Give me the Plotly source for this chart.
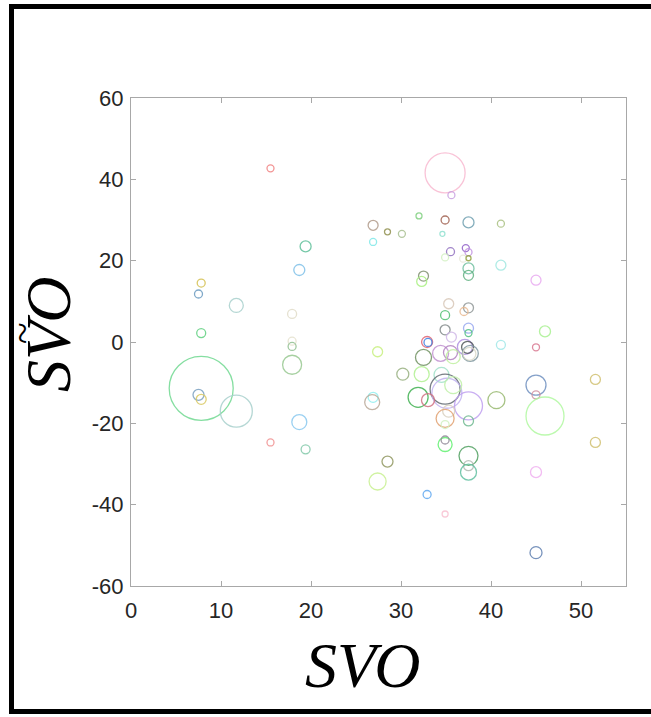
import plotly.graph_objects as go

x_vals = [15.5, 26.9, 26.9, 19.4, 18.7, 7.8, 7.5, 11.7, 17.9, 7.8, 17.9, 17.9, 7.8, 7.5, 7.8, 11.7,
          17.9, 18.7, 15.5, 19.4, 27.4, 26.9, 26.8, 27.4, 28.5, 28.5, 34.9, 35.6, 32.0, 34.9, 37.5,
          41.1, 30.1, 34.6, 35.5, 37.2, 37.5, 34.9, 36.9, 37.5, 37.5, 37.5, 41.1, 45.0, 32.5, 32.3,
          35.3, 37.5, 37.0, 34.9, 34.9, 35.6, 37.5, 37.5, 46.0, 32.9, 33.0, 41.1, 45.0, 32.5, 34.4,
          35.5, 35.8, 37.1, 37.4, 37.7, 37.6, 30.2, 32.3, 34.5, 34.9, 35.1, 35.8, 31.9, 33.0, 37.5,
          35.3, 34.9, 37.5, 34.9, 40.6, 45.0, 45.0, 46.0, 51.6, 51.6, 45.0, 45.0, 32.9, 34.9, 34.9,
          34.9, 37.5, 37.5, 37.5]
y_vals = [42.7, 28.7, 24.6, 23.5, 17.7, 14.5, 11.8, 9.0, 6.9, 2.2, 0.2, -1.1, -11.4, -13.0, -14.1, -17.0,
          -5.6, -19.7, -24.7, -26.4, -2.4, -13.6, -14.8, -34.3, 27.1, -29.4, 41.6, 36.1, 31.0, 30.0, 29.4,
          29.1, 26.6, 26.6, 22.2, 23.1, 22.1, 20.8, 20.5, 20.6, 18.1, 16.4, 18.9, 15.2, 16.2, 14.9,
          9.4, 8.4, 7.5, 6.6, 3.0, 1.2, 3.4, 2.2, 2.6, 0.0, -0.1, -0.7, -1.3, -3.8, -2.8,
          -2.6, -3.6, -1.2, -1.3, -2.8, -2.9, -7.9, -7.9, -8.1, -11.6, -12.6, -10.6, -13.6, -14.3, -15.7,
          -17.0, -18.8, -19.4, -20.3, -14.3, -10.6, -13.0, -18.2, -9.2, -24.7, -32.0, -51.8, -37.5, -42.3, -25.2,
          -24.1, -28.0, -30.4, -32.0]
sizes = [7, 10, 7, 11, 11, 8, 8, 14, 9, 9, 8, 8, 64, 11, 10, 32,
         19, 15, 7, 9, 10, 10, 15, 17, 6, 11, 40, 7, 6, 8, 11,
         7, 7, 5, 8, 7, 7, 7, 7, 5, 11, 10, 10, 10, 10, 10,
         10, 10, 8, 9, 10, 10, 10, 7, 11, 11, 8, 9, 7, 16, 16,
         14, 14, 15, 12, 16, 13, 12, 15, 15, 30, 30, 17, 20, 13, 28,
         12, 18, 10, 8, 17, 20, 8, 38, 10, 10, 11, 12, 8, 6, 14,
         8, 19, 10, 16]
colors = ["#f08080", "#b09a8a", "#7fe8e8", "#5fbf9a", "#7ec0e8", "#d4c050", "#6a9ac0", "#a8d0cc",
          "#e0dcc8", "#60d080", "#e4e0cc", "#90c090", "#70d890", "#7aa0c0", "#d8c860", "#a8d0cc",
          "#98c890", "#88c8ee", "#f09090", "#80c8a8", "#c8f080", "#90eeee", "#b8a898", "#c8f090",
          "#909050", "#909860", "#f8b8d0", "#c8a0e0", "#80d080", "#a06050", "#70a0b0", "#a8c080",
          "#a8c090", "#90e0d0", "#9070c0", "#9060c8", "#c090e0", "#d0f0c0", "#e8e8d8", "#90a040",
          "#70c0a0", "#60b080", "#a0e8e0", "#e8a8f0", "#809070", "#a8f080", "#d8c8b8", "#909898",
          "#e8b890", "#50c070", "#808888", "#d0b8e8", "#98a8f0", "#50c080", "#a8f090", "#e06070",
          "#4080e0", "#a0e8e8", "#d87890", "#709060", "#c090d0", "#b080c0", "#c0f0a0", "#b090e0",
          "#505858", "#8098a0", "#d8d8c8", "#98b080", "#b0f090", "#a0e0c8", "#606870", "#c0b0f0",
          "#c0f0a8", "#40b050", "#d07080", "#c0a0f0", "#d8d0c0", "#e0a070", "#70b890", "#d0f0c0",
          "#98b870", "#7090c0", "#d090a0", "#b0f8a0", "#d0c070", "#d0c070", "#f0b0f0", "#6080b0",
          "#60a8f0", "#f8c0d0", "#60f070", "#908898", "#50a060", "#b0b8b0", "#60c0a0"]

x_ticks = [0, 10, 20, 30, 40, 50]
x_ticktext = ["0", "10", "20", "30", "40", "50"]
y_ticks = [-60, -40, -20, 0, 20, 40, 60]
y_ticktext = ["-60", "-40", "-20", "0", "20", "40", "60"]

fig = go.Figure()
fig.add_trace(go.Scatter(
    x=x_vals, y=y_vals, mode="markers",
    marker=dict(symbol="circle-open", size=sizes, color=colors,
                line=dict(width=1.3, color=colors), opacity=0.85),
    showlegend=False, hoverinfo="x+y"))

L, R, T, B = 131, 25, 98, 131
W, H = 651, 717
pw, ph = W - L - R, H - T - B

def px(xp):
    return (xp - L) / pw

def py(yp):
    return (H - B - yp) / ph

axis_common = dict(showgrid=False, zeroline=False, showline=True, linecolor="#a8a8a8", linewidth=1,
                   mirror="ticks", ticks="inside", ticklen=5, tickcolor="#a8a8a8",
                   tickfont=dict(family="Liberation Sans, Arial", size=22, color="#262626"))

def bar(x0, x1, y0, y1):
    return dict(type="rect", xref="paper", yref="paper", x0=px(x0), x1=px(x1),
                y0=py(y1), y1=py(y0), fillcolor="black", line=dict(width=0), layer="above")

fig.update_layout(
    width=W, height=H,
    margin=dict(l=L, r=R, t=T, b=B, pad=0),
    paper_bgcolor="white", plot_bgcolor="white",
    xaxis=dict(range=[0, 55], tickvals=x_ticks, ticktext=x_ticktext, ticklabelstandoff=5, **axis_common),
    yaxis=dict(range=[-60, 60], tickvals=y_ticks, ticktext=y_ticktext, ticklabelstandoff=2, **axis_common),
    shapes=[
        bar(9, 14, 4, 714),
        bar(9, 651, 4, 9),
        bar(9, 651, 709, 714),
    ],
    annotations=[
        dict(text="<i>SVO</i>", xref="paper", yref="paper", x=px(362), y=py(665),
             showarrow=False, xanchor="center", yanchor="middle",
             font=dict(family="Liberation Serif, Times New Roman", size=64, color="black")),
        dict(text="<i>SVO</i>", xref="paper", yref="paper", x=px(48), y=py(335),
             showarrow=False, xanchor="center", yanchor="middle", textangle=-90,
             font=dict(family="Liberation Serif, Times New Roman", size=64, color="black")),
        dict(text="~", xref="paper", yref="paper", x=px(22), y=py(333),
             showarrow=False, xanchor="center", yanchor="middle", textangle=-90,
             font=dict(family="Liberation Serif, Times New Roman", size=40, color="black")),
    ],
)

fig.write_html("out.html")
